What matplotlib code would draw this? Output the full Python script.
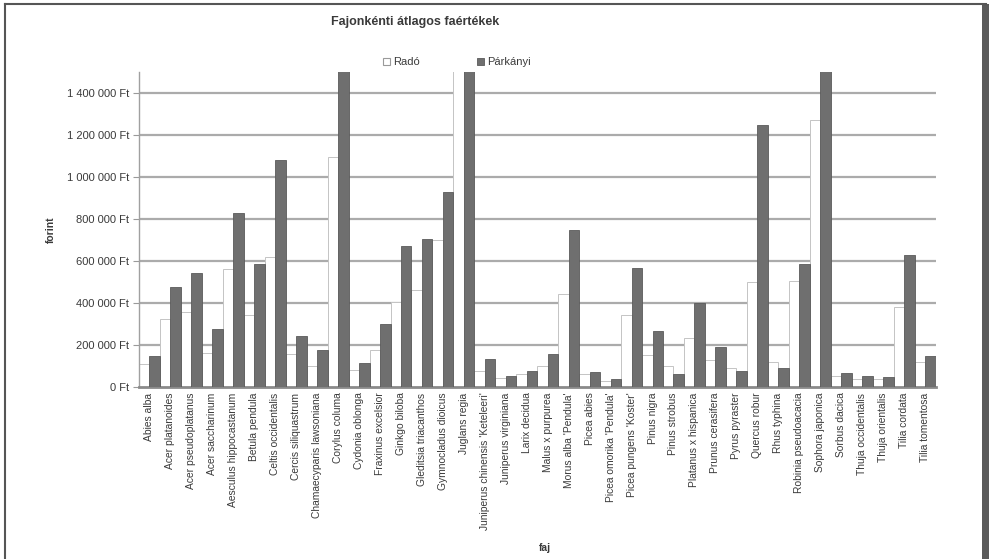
import matplotlib
matplotlib.use("Agg")
import matplotlib.pyplot as plt
import numpy as np
from matplotlib.ticker import FuncFormatter
from matplotlib.patches import Rectangle
from matplotlib.lines import Line2D

species = [
    "Abies alba", "Acer platanoides", "Acer pseudoplatanus", "Acer saccharinum",
    "Aesculus hippocastanum", "Betula pendula", "Celtis occidentalis",
    "Cercis siliquastrum", "Chamaecyparis lawsoniana", "Corylus columa",
    "Cydonia oblonga", "Fraxinus excelsior", "Ginkgo biloba",
    "Gleditsia triacanthos", "Gymnocladus dioicus", "Juglans regia",
    "Juniperus chinensis 'Keteleeri'", "Juniperus virginiana", "Larix decidua",
    "Malus x purpurea", "Morus alba 'Pendula'", "Picea abies",
    "Picea omorika 'Pendula'", "Picea pungens 'Koster'", "Pinus nigra",
    "Pinus strobus", "Platanus x hispanica", "Prunus cerasifera",
    "Pyrus pyraster", "Quercus robur", "Rhus typhina", "Robinia pseudoacacia",
    "Sophora japonica", "Sorbus dacica", "Thuja occidentalis",
    "Thuja orientalis", "Tilia cordata", "Tilia tomentosa",
]

rado = [
    110000, 323000, 355000, 160000, 562000, 344000, 617000, 155000, 100000,
    1095000, 80000, 178000, 402000, 462000, 697000, 1650000, 75000, 45000,
    60000, 100000, 442000, 60000, 30000, 344000, 150000, 100000, 235000,
    130000, 90000, 498000, 120000, 506000, 1270000, 50000, 40000, 40000,
    379000, 120000,
]

parkanyi = [
    148000, 474000, 541000, 275000, 827000, 585000, 1082000, 243000, 175000,
    1700000, 116000, 299000, 673000, 705000, 928000, 1800000, 132000, 53000,
    76000, 156000, 748000, 72000, 40000, 566000, 267000, 64000, 399000,
    191000, 76000, 1246000, 89000, 585000, 1700000, 68000, 52000, 48000,
    630000, 148000,
]

series_names = ["Radó", "Párkányi"]
y_ticks = np.arange(0, 1400001, 200000)

TEXT = "#3a3a3a"
DARK = "#6f6f6f"
GRID = "#ababab"

plt.rcParams["font.family"] = ["Liberation Sans", "DejaVu Sans"]

fig = plt.figure(figsize=(9.92, 5.59), dpi=100)
ax = fig.add_axes([139 / 992, 1 - 387 / 559, (935.5 - 139) / 992, (387 - 71.7) / 559])

x = np.arange(len(species))
ax.bar(x, rado, width=0.5, align="edge", color="white",
       edgecolor="#c4c4c4", linewidth=0.7, zorder=2)
ax.bar(x + 0.5, parkanyi, width=0.5, align="edge", color=DARK,
       edgecolor="#5a5a5a", linewidth=0.6, zorder=3)

ax.set_xlim(0, len(species))
ax.set_ylim(0, 1500000)
ax.set_yticks(y_ticks)
ax.yaxis.set_major_formatter(
    FuncFormatter(lambda v, p: f"{int(v):,}".replace(",", " ") + " Ft"))
ax.yaxis.grid(True, color=GRID, linewidth=1.6, zorder=0)
ax.set_axisbelow(True)

ax.set_xticks(x + 0.5)
ax.set_xticklabels(species, rotation=90, fontsize=7.4, color=TEXT)
ax.tick_params(axis="x", length=0, pad=4)
ax.tick_params(axis="y", length=4, width=0.8, color="#9a9a9a",
               labelsize=8, labelcolor=TEXT, pad=3)

for side in ("top", "right"):
    ax.spines[side].set_visible(False)
ax.spines["left"].set_color("#a0a0a0")
ax.spines["left"].set_linewidth(1.0)
ax.spines["bottom"].set_color("#8a8a8a")
ax.spines["bottom"].set_linewidth(2.0)

ax.set_ylabel("forint", fontsize=7.5, fontweight="bold", color=TEXT)
ax.yaxis.set_label_coords(-0.104, 0.5)

fig.text(545 / 992, 1 - 548 / 559, "faj", fontsize=7.5, fontweight="bold",
         color=TEXT, ha="center", va="center")
fig.text(415 / 992, 1 - 22 / 559, "Fajonkénti átlagos faértékek", fontsize=9,
         fontweight="bold", color=TEXT, ha="center", va="center")

handles = [
    Rectangle((0, 0), 1, 1, facecolor="white", edgecolor="#9a9a9a", linewidth=0.8),
    Rectangle((0, 0), 1, 1, facecolor=DARK, edgecolor="#5a5a5a", linewidth=0.6),
]
leg = fig.legend(handles, series_names, loc="center", ncol=2,
                 bbox_to_anchor=(457 / 992, 1 - 62 / 559), frameon=False,
                 fontsize=8, handlelength=0.6, handleheight=0.6,
                 handletextpad=0.3, columnspacing=5.2)
for t in leg.get_texts():
    t.set_color(TEXT)

# outer frame
fig.add_artist(Line2D([5 / 992, 5 / 992], [0, 1 - 4 / 559], transform=fig.transFigure,
                      color="#555555", linewidth=1.5))
fig.add_artist(Line2D([5 / 992, 986 / 992], [1 - 4 / 559, 1 - 4 / 559],
                      transform=fig.transFigure, color="#555555", linewidth=1.5))
fig.add_artist(Rectangle((982 / 992, 0), 7 / 992, 1 - 4 / 559,
                         transform=fig.transFigure, facecolor="#5a5a5a",
                         edgecolor="none"))

fig.savefig("out.png", dpi=100)
